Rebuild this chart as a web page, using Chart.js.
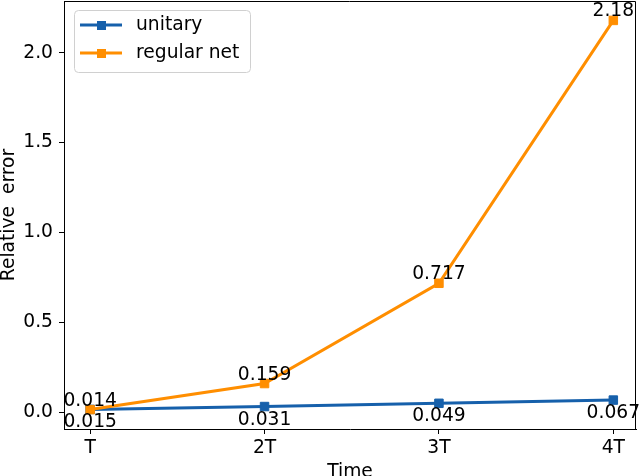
<!DOCTYPE html>
<html>
<head>
<meta charset="utf-8">
<script src="https://cdn.jsdelivr.net/npm/chart.js@4.4.0/dist/chart.umd.min.js"></script>
<style>
  html, body { margin: 0; padding: 0; background: #fff; }
</style>
</head>
<body>
<canvas id="grafico" width="640" height="476"></canvas>
<script>
const tiempos = ["T", "2T", "3T", "4T"];
const posiciones = [1, 2, 3, 4];
const unitario = [0.015, 0.031, 0.049, 0.067];
const redRegular = [0.014, 0.159, 0.717, 2.18];
const etiquetasUnitario = ["0.015", "0.031", "0.049", "0.067"];
const etiquetasRegular = ["0.014", "0.159", "0.717", "2.18"];
const ticksY = [0, 0.5, 1.0, 1.5, 2.0];

const azul = "#1660ab";
const naranja = "#ff8e00";
const fuente = "DejaVu Sans";
const tam = 18.7;

// etiquetas de valor junto a cada punto
const valoresPlugin = {
  id: "valores",
  afterDatasetsDraw(chart) {
    const ctx = chart.ctx;
    ctx.save();
    ctx.font = tam + "px '" + fuente + "'";
    ctx.fillStyle = "#000";
    ctx.textAlign = "center";
    ctx.textBaseline = "alphabetic";
    chart.data.datasets.forEach((ds, i) => {
      const meta = chart.getDatasetMeta(i);
      meta.data.forEach((p, j) => {
        if (ds.label === "unitary") {
          ctx.fillText(etiquetasUnitario[j], p.x, p.y + 18);
        } else {
          ctx.fillText(etiquetasRegular[j], p.x, p.y - 4);
        }
      });
    });
    ctx.restore();
  }
};

// leyenda estilo matplotlib
const leyendaPlugin = {
  id: "leyenda",
  afterDraw(chart) {
    const ctx = chart.ctx;
    ctx.save();
    ctx.beginPath();
    ctx.roundRect(74.5, 10.5, 176, 62, 4);
    ctx.fillStyle = "rgba(255,255,255,0.8)";
    ctx.fill();
    ctx.strokeStyle = "#d0d0d0";
    ctx.lineWidth = 1;
    ctx.stroke();
    const filas = [
      { texto: "unitary", color: azul, y: 25 },
      { texto: "regular net", color: naranja, y: 53 }
    ];
    filas.forEach((f) => {
      ctx.strokeStyle = f.color;
      ctx.lineWidth = 3;
      ctx.beginPath();
      ctx.moveTo(80, f.y);
      ctx.lineTo(122, f.y);
      ctx.stroke();
      ctx.fillStyle = f.color;
      ctx.fillRect(97, f.y - 4, 9, 9);
      ctx.fillStyle = "#000";
      ctx.font = tam + "px '" + fuente + "'";
      ctx.textAlign = "left";
      ctx.textBaseline = "middle";
      ctx.fillText(f.texto, 136, f.y);
    });
    ctx.restore();
  }
};

const puntos = (valores) => valores.map((v, i) => ({ x: posiciones[i], y: v }));

const llamadoGrafico = document.querySelector("#grafico").getContext("2d");

const grafico = new Chart(llamadoGrafico, {
  type: "line",
  data: {
    datasets: [
      {
        label: "unitary",
        data: puntos(unitario),
        borderColor: azul,
        backgroundColor: azul,
        borderWidth: 3,
        pointStyle: "rect",
        pointRadius: 6,
        pointBorderWidth: 1,
        order: 2,
        clip: false
      },
      {
        label: "regular net",
        data: puntos(redRegular),
        borderColor: naranja,
        backgroundColor: naranja,
        borderWidth: 3,
        pointStyle: "rect",
        pointRadius: 6,
        pointBorderWidth: 1,
        order: 1,
        clip: false
      }
    ]
  },
  options: {
    responsive: false,
    animation: false,
    layout: { autoPadding: false, padding: { left: 0, right: 4, top: 1, bottom: 0 } },
    plugins: {
      legend: { display: false },
      tooltip: { enabled: false }
    },
    scales: {
      x: {
        type: "linear",
        min: 0.85,
        max: 4.13,
        afterBuildTicks: (scale) => {
          scale.ticks = posiciones.map((v) => ({ value: v }));
        },
        afterFit: (scale) => {
          scale.height = 47;
          scale.paddingLeft = 0;
          scale.paddingRight = 0;
        },
        ticks: {
          callback: (v) => tiempos[posiciones.indexOf(v)],
          font: { family: fuente, size: tam },
          color: "#000",
          padding: 3,
          maxRotation: 0,
          autoSkip: false
        },
        grid: { drawOnChartArea: false, drawTicks: true, tickLength: 5, color: "#000" },
        border: { display: true, color: "#000", width: 1 },
        title: {
          display: true,
          text: "Time",
          font: { family: fuente, size: tam },
          color: "#000",
          padding: { top: 0, bottom: -7.5 }
        }
      },
      y: {
        type: "linear",
        min: -0.094,
        max: 2.288,
        afterBuildTicks: (scale) => {
          scale.ticks = ticksY.map((v) => ({ value: v }));
        },
        afterFit: (scale) => {
          scale.width = 64;
          scale.paddingTop = 0;
          scale.paddingBottom = 0;
        },
        ticks: {
          callback: (v) => v.toFixed(1),
          font: { family: fuente, size: tam },
          color: "#000",
          padding: 6
        },
        grid: { drawOnChartArea: false, drawTicks: true, tickLength: 5, color: "#000" },
        border: { display: true, color: "#000", width: 1 },
        title: {
          display: true,
          text: "Relative  error",
          font: { family: fuente, size: tam },
          color: "#000",
          padding: { top: -2.2, bottom: 0 }
        }
      }
    }
  },
  plugins: [valoresPlugin, leyendaPlugin, {
    id: "marcoSuperior",
    afterDraw(chart) {
      const a = chart.chartArea;
      const ctx = chart.ctx;
      ctx.save();
      ctx.strokeStyle = "#000";
      ctx.lineWidth = 1;
      ctx.beginPath();
      ctx.moveTo(a.left, a.top + 0.5);
      ctx.lineTo(a.right - 0.5, a.top + 0.5);
      ctx.lineTo(a.right - 0.5, a.bottom);
      ctx.stroke();
      ctx.restore();
    }
  }]
});
</script>
</body>
</html>
